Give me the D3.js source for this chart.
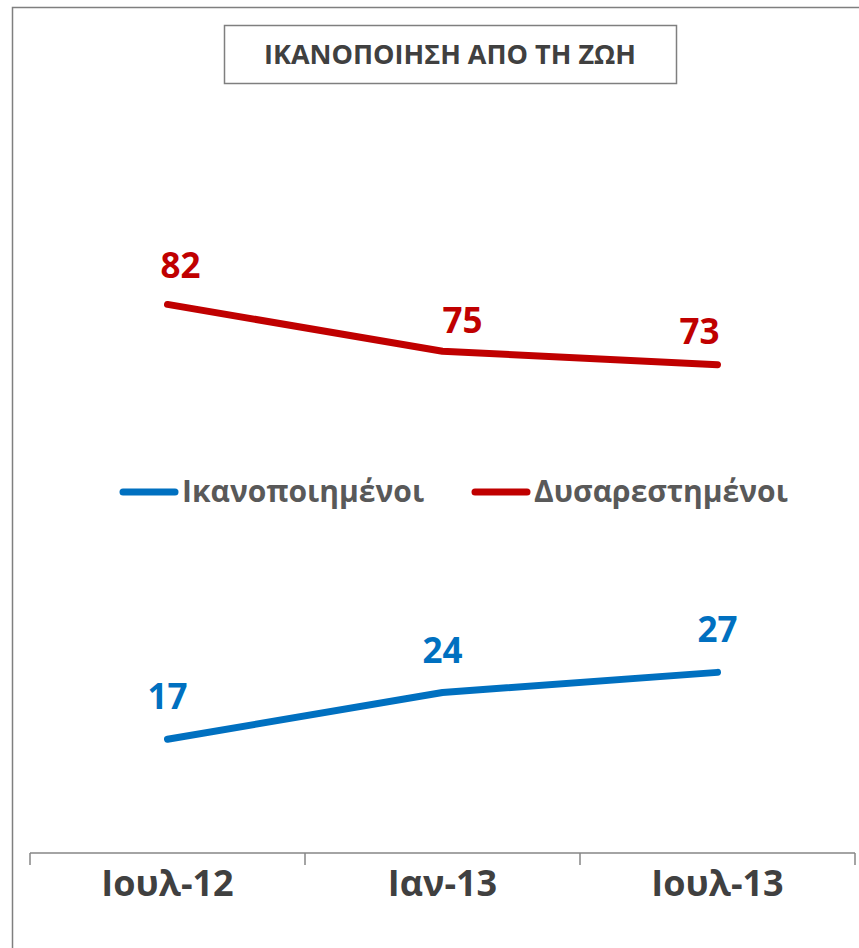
<!DOCTYPE html>
<html>
<head>
<meta charset="utf-8">
<script src="https://cdn.jsdelivr.net/npm/d3@7"></script>
<style>
    body { margin: 0; background: #fff; }
    text { font-family: "Open Sans", sans-serif; }
</style>
</head>
<body>
<div id="chart"></div>
<script>
// data
const title = 'ΙΚΑΝΟΠΟΙΗΣΗ ΑΠΟ ΤΗ ΖΩΗ';
const categories = ['Ιουλ-12', 'Ιαν-13', 'Ιουλ-13'];
const seriesNames = ['Ικανοποιημένοι', 'Δυσαρεστημένοι'];
const satisfied = [17, 24, 27];
const dissatisfied = [82, 75, 73];

const draw = () => {
    const colors = ['#0070C0', '#C00000'];
    const seriesValues = [satisfied, dissatisfied];
    // label nudges (layout only)
    const labelDx = [[0, 0, 0], [13, 20, -18]];
    const labelDy = [[-30, -29, -30], [-26, -18, -21]];

    // dimensions
    const dimensions = {
        width: 859,
        height: 948,
        axisLeft: 30,
        axisRight: 855,
        axisY: 853,
        top: 184,
    }

    const svg = d3.select('#chart')
        .append('svg')
        .attr('width', dimensions.width)
        .attr('height', dimensions.height);

    // outer frame
    svg.append('rect')
        .attr('x', 12.5)
        .attr('y', 7.5)
        .attr('width', 1000)
        .attr('height', 1000)
        .attr('fill', 'none')
        .attr('stroke', '#7f7f7f')
        .attr('stroke-width', 1.5);

    // title box
    svg.append('rect')
        .attr('x', 224.5)
        .attr('y', 25.5)
        .attr('width', 452)
        .attr('height', 58)
        .attr('fill', '#fff')
        .attr('stroke', '#7f7f7f')
        .attr('stroke-width', 1.5);

    svg.append('text')
        .attr('x', 450)
        .attr('y', 64)
        .attr('text-anchor', 'middle')
        .attr('font-size', 27)
        .attr('font-weight', 700)
        .attr('fill', '#404040')
        .text(title);

    // scales
    const xScale = d3.scaleBand()
        .domain(categories)
        .range([dimensions.axisLeft, dimensions.axisRight]);

    const yScale = d3.scaleLinear()
        .domain([0, 100])
        .range([dimensions.axisY, dimensions.top]);

    const xCenter = c => xScale(c) + xScale.bandwidth() / 2;

    // axis
    const axisGroup = svg.append('g')
        .attr('transform', `translate(0, ${dimensions.axisY})`);

    axisGroup.append('line')
        .attr('x1', dimensions.axisLeft)
        .attr('x2', dimensions.axisRight)
        .attr('stroke', '#868686')
        .attr('stroke-width', 1.5);

    const tickPositions = categories.map(c => xScale(c)).concat([dimensions.axisRight]);
    axisGroup.selectAll('line.tick')
        .data(tickPositions)
        .join('line')
        .attr('class', 'tick')
        .attr('x1', d => d)
        .attr('x2', d => d)
        .attr('y1', 0)
        .attr('y2', 12)
        .attr('stroke', '#868686')
        .attr('stroke-width', 1.5);

    axisGroup.selectAll('text')
        .data(categories)
        .join('text')
        .attr('x', xCenter)
        .attr('y', 43)
        .attr('text-anchor', 'middle')
        .attr('font-size', 36)
        .attr('font-weight', 700)
        .attr('fill', '#404040')
        .text(d => d);

    // lines
    const line = d3.line()
        .x((d, i) => xCenter(categories[i]))
        .y(d => yScale(d));

    seriesValues.forEach((values, s) => {
        svg.append('path')
            .datum(values)
            .attr('d', line)
            .attr('fill', 'none')
            .attr('stroke', colors[s])
            .attr('stroke-width', 7)
            .attr('stroke-linecap', 'round')
            .attr('stroke-linejoin', 'round');

        svg.append('g')
            .selectAll('text')
            .data(values)
            .join('text')
            .attr('x', (d, i) => xCenter(categories[i]) + labelDx[s][i])
            .attr('y', (d, i) => yScale(d) + labelDy[s][i])
            .attr('text-anchor', 'middle')
            .attr('font-size', 35)
            .attr('font-weight', 700)
            .attr('fill', colors[s])
            .text(d => d);
    });

    // legend
    const legendX = [120, 472];
    const legend = svg.append('g')
        .attr('transform', 'translate(0, 492)');

    const legendItems = legend.selectAll('g')
        .data(seriesNames)
        .join('g')
        .attr('transform', (d, i) => `translate(${legendX[i]}, 0)`);

    legendItems.append('line')
        .attr('x1', 3)
        .attr('x2', 55)
        .attr('stroke', (d, i) => colors[i])
        .attr('stroke-width', 7)
        .attr('stroke-linecap', 'round');

    legendItems.append('text')
        .attr('x', 62)
        .attr('y', 10)
        .attr('font-size', 30)
        .attr('font-weight', 700)
        .attr('fill', '#595959')
        .text(d => d);
}

draw();
</script>
</body>
</html>
